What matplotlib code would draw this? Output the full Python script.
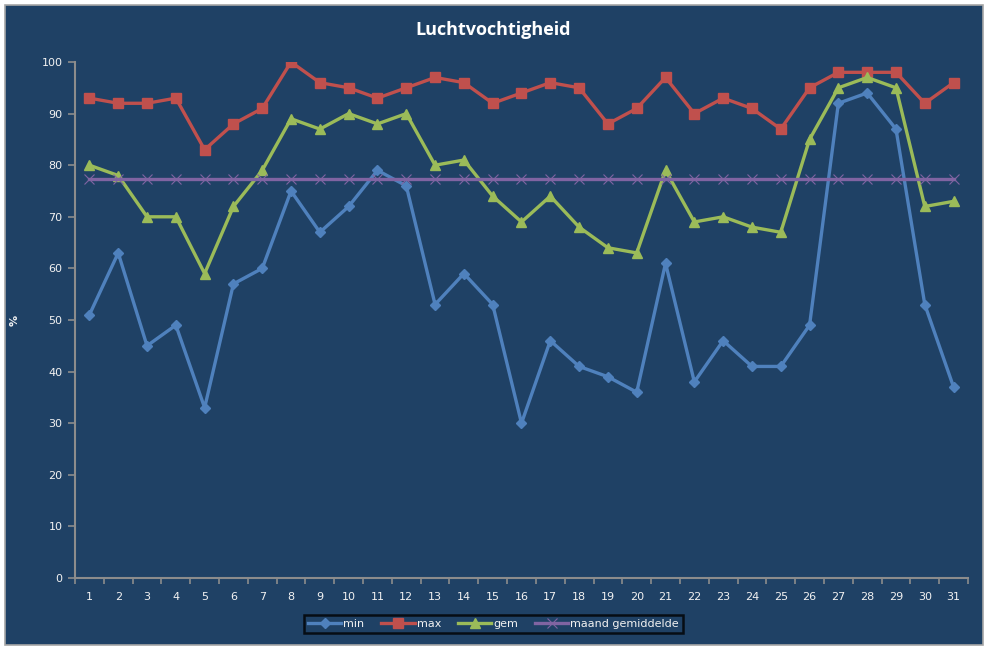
import matplotlib
matplotlib.use('Agg')
import matplotlib.pyplot as plt
from matplotlib.patches import Rectangle

plt.rcParams['font.family'] = ['DejaVu Sans']
plt.rcParams['font.size'] = 8

days = list(range(1, 32))
day_labels = [str(d) for d in days]

rh_min = [51, 63, 45, 49, 33, 57, 60, 75, 67, 72, 79, 76, 53, 59, 53, 30,
          46, 41, 39, 36, 61, 38, 46, 41, 41, 49, 92, 94, 87, 53, 37]
rh_max = [93, 92, 92, 93, 83, 88, 91, 100, 96, 95, 93, 95, 97, 96, 92, 94,
          96, 95, 88, 91, 97, 90, 93, 91, 87, 95, 98, 98, 98, 92, 96]
rh_gem = [80, 78, 70, 70, 59, 72, 79, 89, 87, 90, 88, 90, 80, 81, 74, 69,
          74, 68, 64, 63, 79, 69, 70, 68, 67, 85, 95, 97, 95, 72, 73]
rh_maand = [77.4] * 31

bg = '#1F4165'
axis_col = '#8C8C8C'
txt = '#F2F2F2'

fig = plt.figure(figsize=(9.87, 6.48), dpi=100)
fig.patch.set_facecolor('white')
# chart area with light border, drawn behind the axes
fig.patches.append(Rectangle((5 / 987, 3 / 648), 978 / 987, 640 / 648,
                             transform=fig.transFigure, facecolor=bg,
                             edgecolor='#A6A6A6', linewidth=1.2, zorder=-10))

ax = fig.add_axes([75 / 987, 70 / 648, 893 / 987, 516 / 648])
ax.set_facecolor(bg)

ax.plot(days, rh_min, color='#4F81BD', lw=2.4, marker='D', ms=5, label='min')
ax.plot(days, rh_max, color='#C0504D', lw=2.4, marker='s', ms=7, label='max')
ax.plot(days, rh_gem, color='#9BBB59', lw=2.4, marker='^', ms=7, label='gem')
ax.plot(days, rh_maand, color='#8064A2', lw=2.4, marker='x', ms=7,
        mew=0.8, label='maand gemiddelde')

ax.set_xlim(0.5, 31.5)
ax.set_ylim(0, 100)
ax.set_yticks(range(0, 101, 10))
ax.set_xticks(days)
ax.set_xticklabels(day_labels)
ax.set_xticks([d + 0.5 for d in range(0, 32)], minor=True)

for s in ['top', 'right']:
    ax.spines[s].set_visible(False)
for s in ['left', 'bottom']:
    ax.spines[s].set_color(axis_col)
    ax.spines[s].set_linewidth(1.5)

ax.tick_params(axis='x', which='major', length=0, pad=10, colors=txt)
ax.tick_params(axis='x', which='minor', length=4, width=1.2, color=axis_col)
ax.tick_params(axis='y', length=5, width=1.2, color=axis_col, labelcolor=txt, pad=4)

ax.set_ylabel('%', color=txt, fontsize=8, fontweight='bold', labelpad=16)

fig.text(0.5, 0.953, 'Luchtvochtigheid', ha='center', va='center',
         color='white', fontsize=13, fontweight='bold', family=['Open Sans', 'DejaVu Sans'])

leg = fig.legend(loc='center', bbox_to_anchor=(0.5, 0.037), ncol=4,
                 frameon=True, fancybox=False, fontsize=8,
                 handlelength=3, columnspacing=1.5, handletextpad=0.2,
                 borderpad=0.35)
leg.get_frame().set_facecolor(bg)
leg.get_frame().set_edgecolor('black')
leg.get_frame().set_linewidth(1.8)
for t in leg.get_texts():
    t.set_color(txt)

plt.savefig('out.png', dpi=100, facecolor=fig.get_facecolor())
